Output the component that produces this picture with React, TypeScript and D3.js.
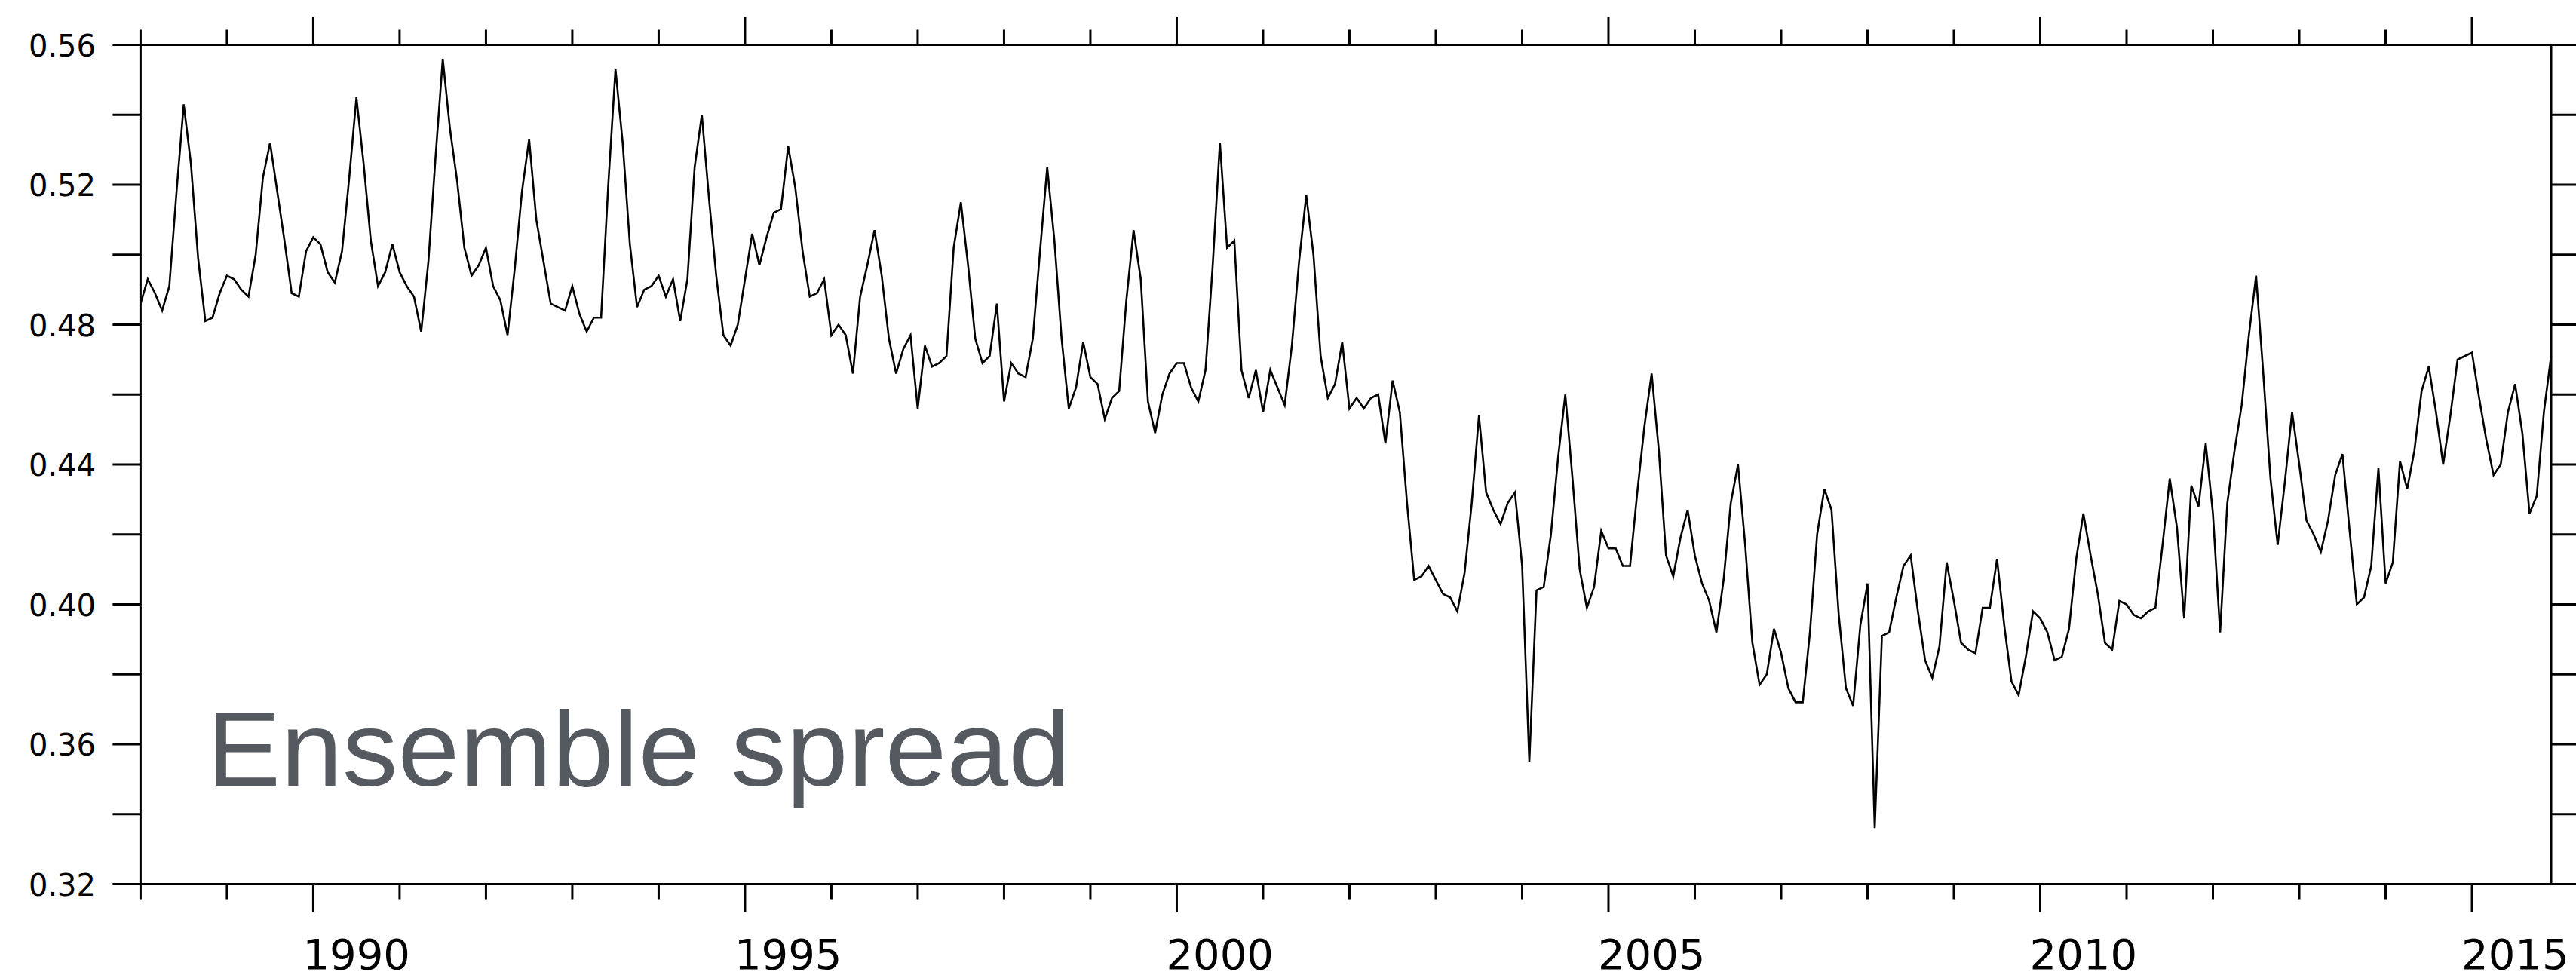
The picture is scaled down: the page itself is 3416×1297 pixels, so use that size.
import {useEffect, useRef} from 'react';
import * as d3 from 'd3';

// monthly ensemble spread, Jan of first year .. Dec of last year
const spread1988to1991 = [
  0.486, 0.493, 0.489, 0.484, 0.491, 0.518, 0.543, 0.526, 0.499, 0.481, 0.482, 0.489,
  0.494, 0.493, 0.490, 0.488, 0.500, 0.522, 0.532, 0.518, 0.504, 0.489, 0.488, 0.501,
  0.505, 0.503, 0.495, 0.492, 0.501, 0.522, 0.545, 0.526, 0.504, 0.491, 0.495, 0.503,
  0.495, 0.491, 0.488, 0.478, 0.498, 0.528, 0.556, 0.536, 0.521, 0.502, 0.494, 0.497,
];
const spread1992to1995 = [
  0.502, 0.491, 0.487, 0.477, 0.496, 0.518, 0.533, 0.510, 0.498, 0.486, 0.485, 0.484,
  0.491, 0.483, 0.478, 0.482, 0.482, 0.520, 0.553, 0.532, 0.503, 0.485, 0.490, 0.491,
  0.494, 0.488, 0.493, 0.481, 0.493, 0.525, 0.540, 0.516, 0.494, 0.477, 0.474, 0.480,
  0.493, 0.506, 0.497, 0.505, 0.512, 0.513, 0.531, 0.519, 0.501, 0.488, 0.489, 0.493,
];
const spread1996to1999 = [
  0.477, 0.480, 0.477, 0.466, 0.488, 0.497, 0.507, 0.494, 0.476, 0.466, 0.473, 0.477,
  0.456, 0.474, 0.468, 0.469, 0.471, 0.502, 0.515, 0.497, 0.476, 0.469, 0.471, 0.486,
  0.458, 0.469, 0.466, 0.465, 0.476, 0.501, 0.525, 0.504, 0.476, 0.456, 0.462, 0.475,
  0.465, 0.463, 0.453, 0.459, 0.461, 0.487, 0.507, 0.493, 0.458, 0.449, 0.460, 0.466,
];
const spread2000to2003 = [
  0.469, 0.469, 0.462, 0.458, 0.467, 0.497, 0.532, 0.502, 0.504, 0.467, 0.459, 0.467,
  0.455, 0.467, 0.462, 0.457, 0.474, 0.498, 0.517, 0.500, 0.471, 0.459, 0.463, 0.475,
  0.456, 0.459, 0.456, 0.459, 0.460, 0.446, 0.464, 0.455, 0.429, 0.407, 0.408, 0.411,
  0.407, 0.403, 0.402, 0.398, 0.409, 0.429, 0.454, 0.432, 0.427, 0.423, 0.429, 0.432,
];
const spread2004to2007 = [
  0.411, 0.355, 0.404, 0.405, 0.420, 0.442, 0.460, 0.436, 0.410, 0.399, 0.405, 0.421,
  0.416, 0.416, 0.411, 0.411, 0.432, 0.451, 0.466, 0.444, 0.414, 0.408, 0.419, 0.427,
  0.414, 0.406, 0.401, 0.392, 0.407, 0.429, 0.440, 0.417, 0.389, 0.377, 0.380, 0.393,
  0.386, 0.376, 0.372, 0.372, 0.392, 0.420, 0.433, 0.427, 0.397, 0.376, 0.371, 0.394,
];
const spread2008to2011 = [
  0.406, 0.336, 0.391, 0.392, 0.402, 0.411, 0.414, 0.398, 0.384, 0.379, 0.388, 0.412,
  0.401, 0.389, 0.387, 0.386, 0.399, 0.399, 0.413, 0.394, 0.378, 0.374, 0.385, 0.398,
  0.396, 0.392, 0.384, 0.385, 0.393, 0.413, 0.426, 0.414, 0.403, 0.389, 0.387, 0.401,
  0.400, 0.397, 0.396, 0.398, 0.399, 0.417, 0.436, 0.422, 0.396, 0.434, 0.428, 0.446,
];
const spread2012to2015 = [
  0.426, 0.392, 0.429, 0.444, 0.457, 0.477, 0.494, 0.466, 0.436, 0.417, 0.435, 0.455,
  0.440, 0.424, 0.420, 0.415, 0.424, 0.437, 0.443, 0.421, 0.400, 0.402, 0.411, 0.439,
  0.406, 0.412, 0.441, 0.433, 0.444, 0.461, 0.468, 0.455, 0.440, 0.454, 0.470, 0.471,
  0.472, 0.459, 0.447, 0.437, 0.440, 0.455, 0.463, 0.449, 0.426, 0.431, 0.455, 0.471,
];

const firstYear = 1988;
const yTickLabels = ['0.32', '0.36', '0.40', '0.44', '0.48', '0.52', '0.56'];
const xLabelYears = [1990, 1995, 2000, 2005, 2010, 2015];
const title = 'Ensemble spread';

// parameters
const width = 3416;
const height = 1297;
const left = 186.4;
const right = 3383;
const top = 59.5;
const bottom = 1172.5;
const axisWidth = 3;
const longTick = 37;
const shortTick = 20;

export default function App() {
  const ref = useRef(null);
  useEffect(() => {
    if (!ref.current)
      return;
    const svg = d3.select(ref.current);
    svg.selectAll('*').remove();

    const values = [
      ...spread1988to1991, ...spread1992to1995, ...spread1996to1999, ...spread2000to2003,
      ...spread2004to2007, ...spread2008to2011, ...spread2012to2015,
    ];
    const series = values.map((v, i) => ({t: firstYear + i / 12, v}));
    const lastT = series[series.length - 1].t;

    const x = d3.scaleLinear().domain([firstYear, lastT]).range([left, right]);
    const y = d3.scaleLinear().domain([0.32, 0.56]).range([bottom, top]);

    // title text inside the plot
    svg.append('text')
      .attr('x', 274)
      .attr('y', 1042)
      .attr('font-family', '"Liberation Sans", Arial, sans-serif')
      .attr('font-size', 141)
      .attr('fill', '#555a61')
      .attr('textLength', 1145)
      .attr('lengthAdjust', 'spacingAndGlyphs')
      .text(title);

    // data line
    const line = d3.line<{t: number, v: number}>()
      .x(d => x(d.t))
      .y(d => y(d.v));
    svg.append('path')
      .attr('d', line(series))
      .attr('fill', 'none')
      .attr('stroke', '#000')
      .attr('stroke-width', 2.6);

    const axes = svg.append('g')
      .attr('stroke', '#000')
      .attr('stroke-width', axisWidth)
      .attr('stroke-linecap', 'square');

    // frame
    axes.append('line').attr('x1', left).attr('x2', right).attr('y1', top).attr('y2', top);
    axes.append('line').attr('x1', left).attr('x2', right).attr('y1', bottom).attr('y2', bottom);
    axes.append('line').attr('x1', left).attr('x2', left).attr('y1', top).attr('y2', bottom);
    axes.append('line').attr('x1', right).attr('x2', right).attr('y1', top).attr('y2', bottom);

    // year ticks, top and bottom
    const years = d3.range(firstYear, Math.floor(lastT) + 1);
    const tickLen = (yr: number) => (yr % 5 === 0 ? longTick : shortTick);
    axes.selectAll('line.xb')
      .data(years)
      .enter()
      .append('line')
      .classed('xb', true)
      .attr('stroke-linecap', 'butt')
      .attr('x1', d => x(d)).attr('x2', d => x(d))
      .attr('y1', bottom).attr('y2', d => bottom + tickLen(d));
    axes.selectAll('line.xt')
      .data(years)
      .enter()
      .append('line')
      .classed('xt', true)
      .attr('stroke-linecap', 'butt')
      .attr('x1', d => x(d)).attr('x2', d => x(d))
      .attr('y1', top).attr('y2', d => top - tickLen(d));

    // value ticks, left and right
    const yTicks = d3.range(0, 13).map(k => 0.32 + k * 0.02);
    axes.selectAll('line.yl')
      .data(yTicks)
      .enter()
      .append('line')
      .classed('yl', true)
      .attr('stroke-linecap', 'butt')
      .attr('x1', left - longTick).attr('x2', left)
      .attr('y1', d => y(d)).attr('y2', d => y(d));
    axes.selectAll('line.yr')
      .data(yTicks)
      .enter()
      .append('line')
      .classed('yr', true)
      .attr('stroke-linecap', 'butt')
      .attr('x1', right).attr('x2', right + longTick)
      .attr('y1', d => y(d)).attr('y2', d => y(d));

    // value labels
    svg.selectAll('text.ylab')
      .data(yTickLabels)
      .enter()
      .append('text')
      .classed('ylab', true)
      .attr('x', 127)
      .attr('y', d => y(+d) + 15)
      .attr('text-anchor', 'end')
      .attr('font-family', '"DejaVu Sans", sans-serif')
      .attr('font-size', 40)
      .attr('fill', '#000')
      .text(d => d);

    // year labels, centred in the middle of each year
    svg.selectAll('text.xlab')
      .data(xLabelYears)
      .enter()
      .append('text')
      .classed('xlab', true)
      .attr('x', d => x(d + 0.5))
      .attr('y', 1285)
      .attr('text-anchor', 'middle')
      .attr('font-family', '"DejaVu Sans", sans-serif')
      .attr('font-size', 56)
      .attr('fill', '#000')
      .text(d => String(d));
  }, [ref]);

  return <svg
    ref={ref}
    width={width}
    height={height}
    style={{position: 'absolute', left: 0, top: 0, background: '#fff', display: 'block'}}
  />;
}
